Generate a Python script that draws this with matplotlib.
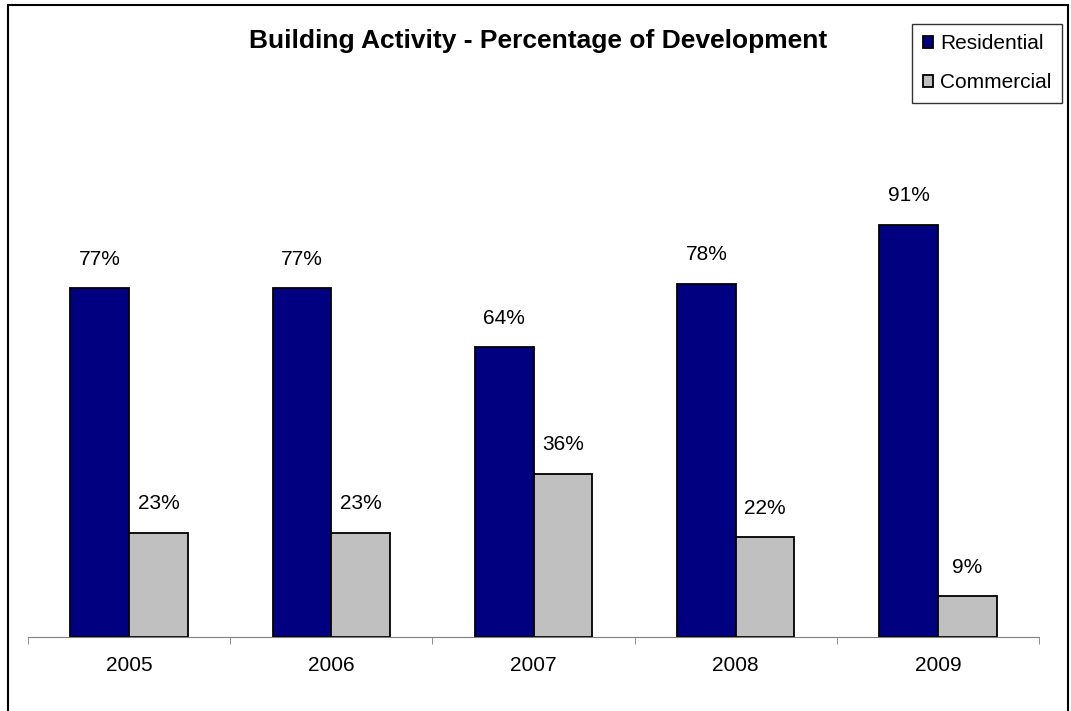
import matplotlib.pyplot as plt
import numpy as np
from matplotlib.patches import Rectangle

plt.rcParams['font.family'] = ['Liberation Sans', 'DejaVu Sans']

years = ['2005', '2006', '2007', '2008', '2009']
residential = [77, 77, 64, 78, 91]
commercial = [23, 23, 36, 22, 9]

fig = plt.figure(figsize=(10.71, 7.11), dpi=100)
# plot area in pixels: x 28..1039, axis at y 637
ax = fig.add_axes([28 / 1071, (711 - 637) / 711, 1011 / 1071, 453 / 711])

x = np.arange(len(years))
w = 0.29
b1 = ax.bar(x - w / 2, residential, w, color='#000080', edgecolor='black', linewidth=1.3, label='Residential')
b2 = ax.bar(x + w / 2, commercial, w, color='#C0C0C0', edgecolor='black', linewidth=1.3, label='Commercial')

for rect, v in zip(list(b1) + list(b2), residential + commercial):
    ax.annotate(f'{v}%', (rect.get_x() + rect.get_width() / 2, v), xytext=(0, 14),
                textcoords='offset points', ha='center', va='bottom', fontsize=15)

ax.set_xlim(-0.5, len(years) - 0.5)
ax.set_ylim(0, 100)
ax.set_yticks([])
for s in ['top', 'right', 'left']:
    ax.spines[s].set_visible(False)
ax.spines['bottom'].set_color('#808080')
ax.set_xticks(x)
ax.set_xticklabels(years, fontsize=15)
ax.tick_params(axis='x', length=0, pad=14)
# tick marks sit between the categories
ax.set_xticks(np.arange(-0.5, len(years)), minor=True)
ax.tick_params(axis='x', which='minor', length=5, color='#808080', direction='out')

fig.text(538 / 1071, 1 - 41 / 711, 'Building Activity - Percentage of Development',
         ha='center', va='center', fontsize=19, fontweight='bold')

leg = ax.legend(loc='upper right', bbox_to_anchor=(1062 / 1071, 1 - 24 / 711),
                bbox_transform=fig.transFigure, fontsize=15, frameon=True, fancybox=False,
                handlelength=0.5, handleheight=0.5, handletextpad=0.35, borderpad=0.5,
                labelspacing=0.95, borderaxespad=0)
leg.get_frame().set_edgecolor('black')
leg.get_frame().set_linewidth(1.0)

# outer chart border
fig.patches.append(Rectangle((8 / 1071, -0.05), (1068 - 8) / 1071, 1.05 - 5 / 711,
                             transform=fig.transFigure, fill=False, edgecolor='black', linewidth=1.5))

fig.savefig('out.png', dpi=100)
